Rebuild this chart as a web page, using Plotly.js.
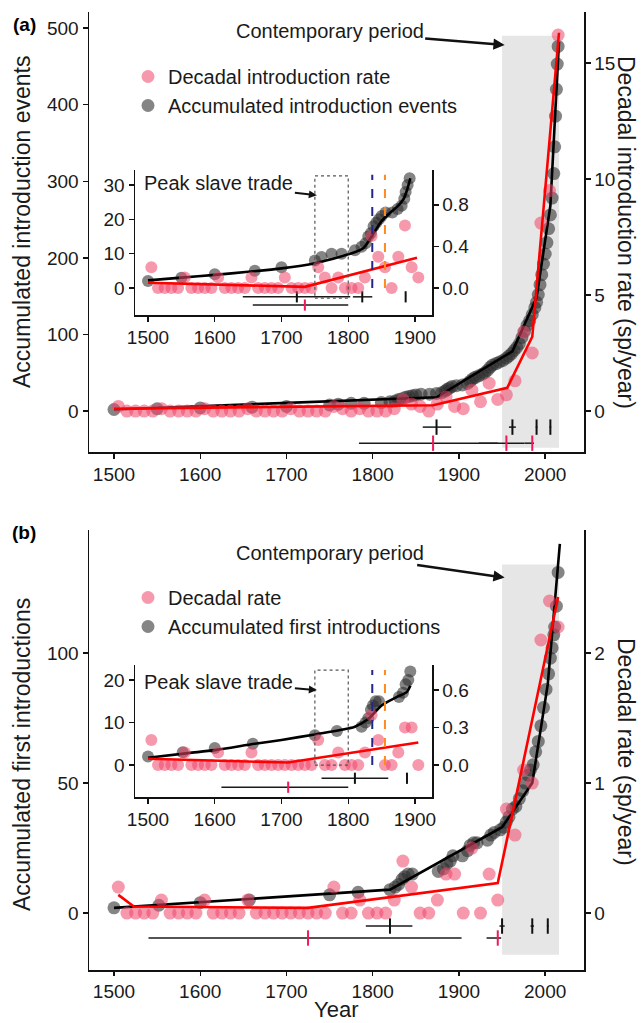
<!DOCTYPE html>
<html><head><meta charset="utf-8">
<script src="https://cdn.plot.ly/plotly-3.0.1.min.js"></script>
<style>html,body{margin:0;padding:0;background:#fff}#chart{width:643px;height:1023px}</style>
</head><body><div id="chart"></div>
<script>
// ---------- DATA ----------
const decades = [1505,1515,1525,1535,1545,1555,1565,1575,1585,1595,1605,1615,1625,1635,1645,1655,1665,1675,1685,1695,1705,1715,1725,1735,1745,1755,1765,1775,1785,1795,1805,1815,1825,1835,1845,1855,1865,1875,1885,1895,1905,1915,1925,1935,1945,1955,1965,1975,1985,1995,2005,2015];
const rateA = [0.2,0,0,0,0,0.1,0,0,0,0,0.1,0,0,0,0,0.1,0,0,0,0,0.1,0,0,0,0,0.2,0.1,0,0.1,0,0,0,0.1,0.5,0.3,0.2,0,0.3,0.6,0.2,0.1,0.9,0.4,1.2,0.5,0.7,1.3,3.4,2.5,8.1,9.5,16.2];
const rateB = [0.2,0,0,0,0,0.1,0,0,0,0,0.1,0,0,0,0,0.1,0,0,0,0,0,0,0,0,0,0.2,0,0,0.1,0,0,0,0.1,0.4,0.2,0,0,0.1,0.3,0.3,0,0.5,0,0.3,0.1,0.8,0.6,1.1,1.0,2.1,2.4,2.2];

const accYearsA = [1500,1550,1600,1660,1700,1750,1760,1775,1790,1810,1820,1826,1830,1834,1838,1842,1846,1850,1856,1866,1874,1880,1884,1886,1889,1892,1897,1904,1910,1913,1916,1919,1923,1927,1930,1933,1936,1939,1943,1947,1951,1955,1958,1961,1964,1967,1970,1973,1976,1979,1982,1985,1988,1990,1992,1994,1996,1998,2000,2002,2004,2006,2008,2010,2011,2012,2013,2014,2015];
const accValsA  = [2,3,4,5,6,8,9,10,10,11,12,13,15,16,18,19,20,21,22,22,23,24,26,28,30,32,33,34,36,39,42,44,46,48,50,53,57,60,62,64,66,69,72,75,79,83,88,96,104,112,118,126,135,142,152,165,178,192,205,220,238,256,278,310,345,385,420,453,476];
const accYearsB = [1500,1552,1600,1657,1750,1783,1820,1826,1830,1834,1837,1841,1846,1876,1882,1886,1890,1893,1904,1910,1913,1917,1921,1933,1937,1941,1948,1952,1955,1958,1962,1966,1970,1974,1977,1980,1983,1986,1989,1992,1995,1998,2001,2004,2006,2008,2010,2011,2013,2015];
const accValsB  = [2,3,4,5,7,8,9,10,11,13,14,15,15,16,17,19,20,22,22,24,26,27,27,28,30,31,32,33,35,37,40,41,44,47,50,53,55,57,62,66,72,79,86,92,98,102,107,110,118,131];

// fitted segmented lines (main panels)
const fitAccYearsA = [1500,1874,1962,1990,2006,2016];
const fitAccValsA  = [2,18,78,148,268,482];
const fitRateYearsA = [1500,1870,1956,1985,2016];
const fitRateValsA  = [0.1,0.25,1.0,3.2,16.3];
const fitAccYearsB = [1500,1820,1950,1985,2003,2017];
const fitAccValsB  = [2,9,33,50,88,142];
const fitRateYearsB = [1505,1523,1725,1945,2015];
const fitRateValsB  = [0.14,0.05,0.04,0.23,2.43];

// fitted lines (insets, pre-1900)
const inAccYearsA = [1500,1550,1600,1650,1700,1750,1800,1822,1835,1850,1863,1875,1883,1888,1893];
const inAccValsA  = [2.2,3.0,3.8,4.7,5.7,7.2,9.8,11.5,15,19.5,22,24,26,28.5,32];
const inRateYearsA = [1500,1735,1903];
const inRateValsA  = [0.05,0.01,0.29];
const inAccYearsB = [1500,1560,1600,1660,1700,1750,1800,1810,1830,1850,1873,1888,1893];
const inAccValsB  = [1.7,2.8,3.5,5,5.9,7.2,8.6,9,10.8,14,16,17.2,18.6];
const inRateYearsB = [1500,1710,1905];
const inRateValsB  = [0.05,0.02,0.18];

// breakpoint estimates with confidence intervals
const bpAccA  = {est:[1874,1962,1990,2006], lo:[1858,1958,1989,2005], hi:[1891,1966,1991,2007]};
const bpRateA = {est:[1870,1955,1985], lo:[1784,1923,1976], hi:[1945,1976,1987]};
const bpAccAi  = {est:[1723,1821,1886], lo:[1642,1807,1885.5], hi:[1803,1836,1886.5]};
const bpRateAi = {est:[1735], lo:[1657], hi:[1800]};
const bpAccB  = {est:[1820,1950,1985,2003], lo:[1792,1947,1983,2002], hi:[1846,1953,1987,2004]};
const bpRateB = {est:[1725,1945], lo:[1540,1932], hi:[1903,1949]};
const bpAccBi  = {est:[1810,1888], lo:[1760,1887.5], hi:[1860,1888.5]};
const bpRateBi = {est:[1710], lo:[1610], hi:[1800]};

const xTicksMain = [1500,1600,1700,1800,1900,2000];
const xTicksInset = [1500,1600,1700,1800,1900];

// ---------- STYLE / HELPERS ----------
const W = 643, H = 1023;
const px = v => v / W, py = v => 1 - v / H;
const FONT = 'Liberation Sans, Arial, Helvetica, sans-serif';
const TXT = '#1a1a1a';
const PINK = 'rgba(240,70,105,0.55)';
const GREY = 'rgba(45,45,45,0.58)';
const insetMax = 1905;
const idxIn = decades.map((d,i)=>i).filter(i => decades[i] <= insetMax);

function pts(x, y, xa, ya, color, size, extra) {
  return Object.assign({type:'scatter', mode:'markers', x, y, xaxis:xa, yaxis:ya,
    marker:{size, color, line:{width:0}}, hoverinfo:'skip', showlegend:false}, extra||{});
}
function line(x, y, xa, ya, color, shape) {
  return {type:'scatter', mode:'lines', x, y, xaxis:xa, yaxis:ya,
    line:{color, width:2.6, shape: shape||'linear', smoothing:0.8}, hoverinfo:'skip', showlegend:false};
}
function errs(bp, xa, ya, level, col, size) {
  return {type:'scatter', mode:'markers', x: bp.est, y: bp.est.map(()=>level), xaxis:xa, yaxis:ya,
    marker:{symbol:'line-ns-open', size, color:col, line:{width:2, color:col}},
    error_x:{type:'data', symmetric:false, array: bp.hi.map((h,i)=>h-bp.est[i]),
      arrayminus: bp.lo.map((l,i)=>bp.est[i]-l), color:'#1a1a1a', thickness:1.5, width:0},
    hoverinfo:'skip', showlegend:false};
}

const traces = [
  // panel (a) main
  pts(accYearsA, accValsA, 'x', 'y', GREY, 13, {name:'Accumulated introduction events', showlegend:true, legend:'legend', legendrank:2}),
  line(fitAccYearsA, fitAccValsA, 'x', 'y', '#000'),
  errs(bpAccA, 'x', 'y', -21, '#111', 11),
  errs(bpRateA, 'x', 'y', -42, '#f0195a', 11),
  pts(decades, rateA, 'x', 'y2', PINK, 13, {name:'Decadal introduction rate', showlegend:true, legend:'legend', legendrank:1}),
  line(fitRateYearsA, fitRateValsA, 'x', 'y2', '#ff0000'),
  // panel (a) inset
  pts(accYearsA.filter(y=>y<=1895), accValsA.filter((v,i)=>accYearsA[i]<=1895), 'x2', 'y3', GREY, 12),
  line(inAccYearsA, inAccValsA, 'x2', 'y3', '#000', 'spline'),
  errs(bpAccAi, 'x2', 'y3', -2.6, '#111', 8),
  errs(bpRateAi, 'x2', 'y3', -5.0, '#f0195a', 8),
  pts(idxIn.map(i=>decades[i]), idxIn.map(i=>rateA[i]), 'x2', 'y4', PINK, 12),
  line(inRateYearsA, inRateValsA, 'x2', 'y4', '#ff0000'),
  // panel (b) main
  pts(accYearsB, accValsB, 'x3', 'y5', GREY, 13, {name:'Accumulated first introductions', showlegend:true, legend:'legend2', legendrank:2}),
  line(fitAccYearsB, fitAccValsB, 'x3', 'y5', '#000'),
  errs(bpAccB, 'x3', 'y5', -5, '#111', 11),
  errs(bpRateB, 'x3', 'y5', -9.6, '#f0195a', 11),
  pts(decades, rateB, 'x3', 'y6', PINK, 13, {name:'Decadal rate', showlegend:true, legend:'legend2', legendrank:1}),
  line(fitRateYearsB, fitRateValsB, 'x3', 'y6', '#ff0000'),
  // panel (b) inset
  pts(accYearsB.filter(y=>y<=1895), accValsB.filter((v,i)=>accYearsB[i]<=1895), 'x4', 'y7', GREY, 12),
  line(inAccYearsB, inAccValsB, 'x4', 'y7', '#000', 'spline'),
  errs(bpAccBi, 'x4', 'y7', -3.1, '#111', 8),
  errs(bpRateBi, 'x4', 'y7', -5.2, '#f0195a', 8),
  pts(idxIn.map(i=>decades[i]), idxIn.map(i=>rateB[i]), 'x4', 'y8', PINK, 12),
  line(inRateYearsB, inRateValsB, 'x4', 'y8', '#ff0000'),
];

function ax(extra) {
  return Object.assign({showline:true, linecolor:'#111', linewidth:1.5, ticks:'outside', ticklen:5,
    tickwidth:1.4, tickcolor:'#111', showgrid:false, zeroline:false, mirror:false,
    tickfont:{family:FONT, size:19, color:TXT}, fixedrange:true}, extra);
}
const mainX = [px(89), px(584)], insetX = [px(135), px(432)];
const domA = [py(452), py(12)], domAi = [py(315), py(170)];
const domB = [py(970), py(530)], domBi = [py(797), py(665)];
const ratioA = 30.3, ratioAi = 30.3, ratioB = 50, ratioBi = 29.4;
const rA = [-53.5, 521], rAi = [-7.9, 34.4], rB = [-21.9, 147.3], rBi = [-7.5, 23.5];

function label(x, y, text, size, angle, bold) {
  return {xref:'paper', yref:'paper', x:px(x), y:py(y), xanchor:'center', yanchor:'middle',
    text: bold ? '<b>'+text+'</b>' : text, textangle: angle||0, showarrow:false,
    font:{family:FONT, size, color: bold ? '#000' : TXT}};
}

const layout = {
  width:W, height:H, margin:{l:0,r:0,t:0,b:0}, paper_bgcolor:'#fff', plot_bgcolor:'rgba(0,0,0,0)',
  font:{family:FONT, color:TXT},
  xaxis: ax({domain:mainX, range:[1471,2045], anchor:'y', tickvals:xTicksMain}),
  yaxis: ax({domain:domA, range:rA, anchor:'x', tickvals:[0,100,200,300,400,500]}),
  yaxis2: ax({overlaying:'y', side:'right', anchor:'x', range:[rA[0]/ratioA, rA[1]/ratioA], tickvals:[0,5,10,15]}),
  xaxis2: ax({domain:insetX, range:[1480.5,1925.5], anchor:'y3', tickvals:xTicksInset}),
  yaxis3: ax({domain:domAi, range:rAi, anchor:'x2', tickvals:[0,10,20,30]}),
  yaxis4: ax({overlaying:'y3', side:'right', anchor:'x2', range:[rAi[0]/ratioAi, rAi[1]/ratioAi], tickvals:[0,0.4,0.8], tickformat:'.1f'}),
  xaxis3: ax({domain:mainX, range:[1471,2045], anchor:'y5', tickvals:xTicksMain, ticklen:4}),
  yaxis5: ax({domain:domB, range:rB, anchor:'x3', tickvals:[0,50,100]}),
  yaxis6: ax({overlaying:'y5', side:'right', anchor:'x3', range:[rB[0]/ratioB, rB[1]/ratioB], tickvals:[0,1,2]}),
  xaxis4: ax({domain:insetX, range:[1480.5,1925.5], anchor:'y7', tickvals:xTicksInset}),
  yaxis7: ax({domain:domBi, range:rBi, anchor:'x4', tickvals:[0,10,20]}),
  yaxis8: ax({overlaying:'y7', side:'right', anchor:'x4', range:[rBi[0]/ratioBi, rBi[1]/ratioBi], tickvals:[0,0.3,0.6], tickformat:'.1f'}),
  showlegend:true,
  legend:{x:px(128), y:py(57), xanchor:'left', yanchor:'top', bgcolor:'rgba(0,0,0,0)',
    font:{family:FONT, size:20, color:TXT}, itemclick:false, itemdoubleclick:false},
  legend2:{x:px(128), y:py(578), xanchor:'left', yanchor:'top', bgcolor:'rgba(0,0,0,0)',
    font:{family:FONT, size:20, color:TXT}, itemclick:false, itemdoubleclick:false},
  shapes:[
    {type:'rect', xref:'x', yref:'y', x0:1950, x1:2016, y0:-48, y1:490, fillcolor:'rgba(205,205,205,0.5)', line:{width:0}, layer:'below'},
    {type:'rect', xref:'x3', yref:'y5', x0:1950, x1:2016, y0:-16, y1:134, fillcolor:'rgba(205,205,205,0.5)', line:{width:0}, layer:'below'},
    {type:'rect', xref:'x2', yref:'y3', x0:1750, x1:1800, y0:-3, y1:32.7, line:{color:'#555', width:1.2, dash:'dot'}},
    {type:'line', xref:'x2', yref:'y3', x0:1836, x1:1836, y0:0, y1:33, line:{color:'#24248a', width:2, dash:'dash'}},
    {type:'line', xref:'x2', yref:'y3', x0:1855, x1:1855, y0:0, y1:33, line:{color:'#ff8a1f', width:2, dash:'dash'}},
    {type:'rect', xref:'x4', yref:'y7', x0:1750, x1:1800, y0:0, y1:22.3, line:{color:'#555', width:1.2, dash:'dot'}},
    {type:'line', xref:'x4', yref:'y7', x0:1836, x1:1836, y0:0, y1:22.3, line:{color:'#24248a', width:2, dash:'dash'}},
    {type:'line', xref:'x4', yref:'y7', x0:1855, x1:1855, y0:0, y1:22.3, line:{color:'#ff8a1f', width:2, dash:'dash'}},
  ],
  annotations:[
    label(24, 25, '(a)', 19, 0, true),
    label(24, 532, '(b)', 19, 0, true),
    label(22, 222, 'Accumulated introduction events', 23, -90),
    label(626, 232, 'Decadal introduction rate (sp/year)', 23, 90),
    label(22, 755, 'Accumulated first introductions', 23, -90),
    label(626, 752, 'Decadal rate (sp/year)', 23, 90),
    label(336, 1009, 'Year', 22, 0),
    {xref:'x', yref:'y', x:1953, y:478, ax:-175, ay:-14, text:'Contemporary period', showarrow:true,
      arrowhead:2, arrowsize:0.9, arrowwidth:2.5, arrowcolor:'#111', font:{size:20}},
    {xref:'x3', yref:'y5', x:1953, y:129, ax:-175, ay:-25, text:'Contemporary period', showarrow:true,
      arrowhead:2, arrowsize:0.9, arrowwidth:2.5, arrowcolor:'#111', font:{size:20}},
    {xref:'x2', yref:'y3', x:1753, y:27, ax:-98, ay:-12, text:'Peak slave trade', showarrow:true,
      arrowhead:2, arrowsize:0.8, arrowwidth:2, arrowcolor:'#111', font:{size:20}},
    {xref:'x4', yref:'y7', x:1753, y:17.6, ax:-98, ay:-8, text:'Peak slave trade', showarrow:true,
      arrowhead:2, arrowsize:0.8, arrowwidth:2, arrowcolor:'#111', font:{size:20}},
  ]
};

Plotly.newPlot('chart', traces, layout, {staticPlot:true, displayModeBar:false});
</script></body></html>
